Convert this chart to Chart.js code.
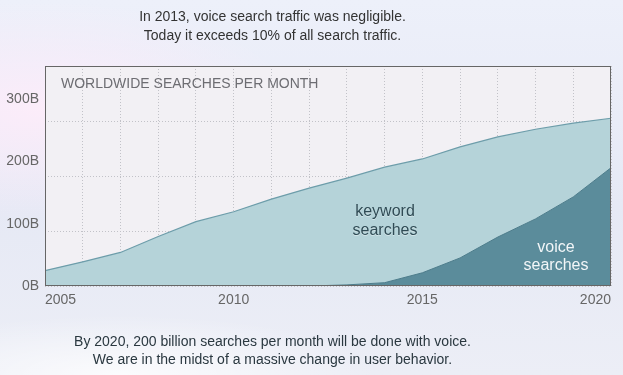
<!DOCTYPE html>
<html><head><meta charset="utf-8">
<script src="https://cdn.jsdelivr.net/npm/chart.js@4.4.1/dist/chart.umd.min.js"></script>
<style>
html,body{margin:0;padding:0;}
body{width:623px;height:375px;overflow:hidden;position:relative;font-family:"Liberation Sans",Arial,sans-serif;
background:
 radial-gradient(ellipse 260px 110px at 40px 110px, rgba(255,236,250,0.85), rgba(255,236,250,0) 100%),
 radial-gradient(ellipse 260px 60px at 120px 375px, rgba(255,255,255,0.8), rgba(255,255,255,0) 100%),
 linear-gradient(180deg,#edf0fa 0%,#e6e9f5 55%,#eceef6 100%);}
#wrap{position:absolute;left:0;top:0;width:623px;height:375px;}
.t{position:absolute;white-space:nowrap;font-size:14px;line-height:19px;}
</style></head><body>
<div id="wrap"><canvas id="c"></canvas></div>
<div class="t" style="left:0;width:545px;text-align:center;top:7px;color:#333">In 2013, voice search traffic was negligible.<br>Today it exceeds 10% of all search traffic.</div>
<div class="t" style="left:0;width:545px;text-align:center;top:332px;color:#2a3840;line-height:18px">By 2020, 200 billion searches per month will be done with voice.<br>We are in the midst of a massive change in user behavior.</div>
<div class="t" style="left:61px;top:74px;color:#6d6d72;line-height:18px">WORLDWIDE SEARCHES PER MONTH</div>
<div class="t" style="left:325px;width:120px;text-align:center;top:201px;font-size:16px;color:#2f4b55;text-shadow:0 1px 0 rgba(255,255,255,0.4)">keyword<br>searches</div>
<div class="t" style="left:496px;width:120px;text-align:center;top:238px;font-size:16px;line-height:18px;color:#f2f6f8">voice<br>searches</div>
<script>
const years = [2005,2006,2007,2008,2009,2010,2011,2012,2013,2014,2015,2016,2017,2018,2019,2020];
const voiceSearches   = [0,0,0,0,0,0,0,0,2,6,24,51,89,122,162,215];
const keywordSearches = [28,44,61,90,117,135,158,178,194,210,207,202,182,163,134,90];
const yTickLabels = [0,100,200,300];
const xTickLabels = [2005,2010,2015,2020];

Chart.defaults.font.family = '"Liberation Sans", Arial, sans-serif';

const plotBg = {
  id:'plotBg',
  beforeDraw(chart){
    const {ctx, chartArea:a} = chart;
    ctx.save(); ctx.fillStyle='#f2f0f4'; ctx.fillRect(a.left,a.top,a.right-a.left,a.bottom-a.top); ctx.restore();
  },
  afterDatasetsDraw(chart){
    const {ctx, chartArea:a} = chart;
    ctx.save(); ctx.strokeStyle='#666'; ctx.lineWidth=1;
    ctx.strokeRect(a.left+0.5,a.top+0.5,a.right-a.left-1,a.bottom-a.top-1); ctx.restore();
  }
};

new Chart(document.getElementById('c'), {
  type:'line',
  data:{
    datasets:[
      {label:'voice searches', data: years.map((x,i)=>({x, y: voiceSearches[i]})), fill:'origin',
       backgroundColor:'#5b8c9b', borderColor:'#4c7c8b', borderWidth:1, pointRadius:0, tension:0},
      {label:'keyword searches', data: years.map((x,i)=>({x, y: keywordSearches[i]})), fill:'-1',
       backgroundColor:'#b5d3d9', borderColor:'#6d9daa', borderWidth:1.2, pointRadius:0, tension:0}
    ]
  },
  options:{
    responsive:true, maintainAspectRatio:false, animation:false,
    layout:{padding:{top:66,right:12,left:0,bottom:0}},
    plugins:{legend:{display:false}, tooltip:{enabled:false}},
    scales:{
      x:{type:'linear', min:2005, max:2020,
         afterBuildTicks: s => { s.ticks = years.map(v=>({value:v})); },
         ticks:{autoSkip:false, maxRotation:0, minRotation:0, align:'inner', padding:6, color:'#666', font:{size:14},
                callback: v => xTickLabels.includes(v) ? String(v) : ''},
         grid:{color:'#c2c2c8', drawTicks:false, lineWidth:1},
         border:{display:false, dash:[1,2]},
         afterFit: s => { s.height = 89; }},
      y:{stacked:true, position:'right', min:0, max:400,
         ticks:{display:false, stepSize:100},
         grid:{color:'#c2c2c8', drawTicks:false, lineWidth:1},
         border:{display:false, dash:[1,2]},
         afterFit: s => { s.width = 0; }},
      yl:{position:'left', min:0, max:353,
         afterBuildTicks: s => { s.ticks = yTickLabels.map(v=>({value:v})); },
         ticks:{color:'#666', font:{size:14}, padding:6, callback: v => v + 'B'},
         grid:{display:false, drawTicks:false},
         border:{display:false},
         afterFit: s => { s.width = 45; }}
    }
  },
  plugins:[plotBg]
});
</script>
</body></html>
